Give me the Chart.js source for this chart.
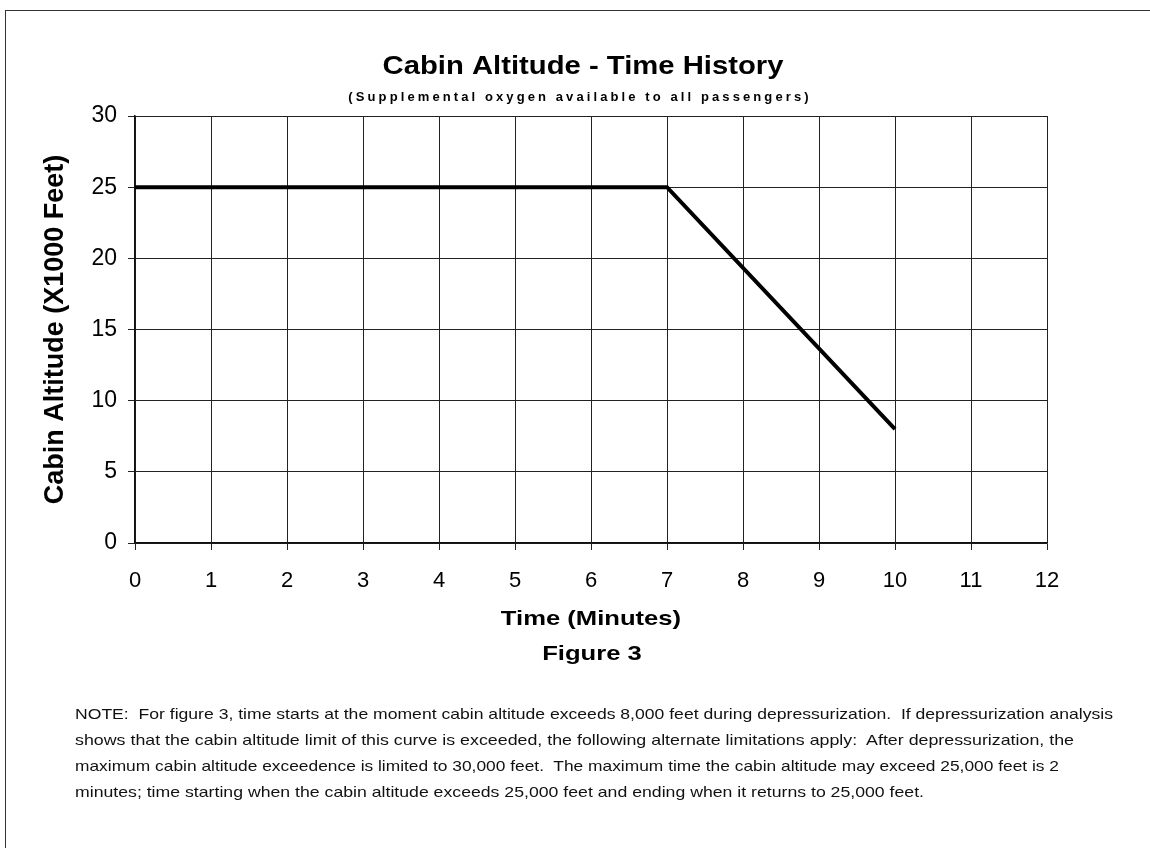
<!DOCTYPE html>
<html>
<head>
<meta charset="utf-8">
<script src="https://cdn.jsdelivr.net/npm/chart.js@4/dist/chart.umd.min.js"></script>
<style>
  html, body { margin: 0; padding: 0; background: #fff; }
  #wrap { position: relative; width: 1150px; height: 848px; overflow: hidden; }
  #frame { position: absolute; left: 5px; top: 10px; width: 1200px; height: 900px; border: 1px solid #333; box-sizing: border-box; }
  canvas { position: absolute; left: 0; top: 0; }
  .note { position: absolute; left: 75px; font-family: "Liberation Sans", Arial, sans-serif; font-size: 14.4px; color: #111; white-space: nowrap; line-height: 26px; transform-origin: 0 50%; }
</style>
</head>
<body>
<div id="wrap">
  <div id="frame"></div>
  <canvas id="c" width="1150" height="848"></canvas>
  <div class="note" data-w="1038" style="top:701px">NOTE:&nbsp; For figure 3, time starts at the moment cabin altitude exceeds 8,000 feet during depressurization.&nbsp; If depressurization analysis</div>
  <div class="note" data-w="999" style="top:727px">shows that the cabin altitude limit of this curve is exceeded, the following alternate limitations apply:&nbsp; After depressurization, the</div>
  <div class="note" data-w="984" style="top:753px">maximum cabin altitude exceedence is limited to 30,000 feet.&nbsp; The maximum time the cabin altitude may exceed 25,000 feet is 2</div>
  <div class="note" data-w="849" style="top:779px">minutes; time starting when the cabin altitude exceeds 25,000 feet and ending when it returns to 25,000 feet.</div>
</div>
<script>
// ---- data ----
const timeMinutes = [0, 7, 10];
const cabinAltitudeK = [25, 25, 8];
const xTicks = [0, 1, 2, 3, 4, 5, 6, 7, 8, 9, 10, 11, 12];
const yTicks = [0, 5, 10, 15, 20, 25, 30];
const chartTitle = 'Cabin Altitude - Time History';
const chartSubtitle = '(Supplemental oxygen available to all passengers)';
const xTitle = 'Time (Minutes)';
const figureLabel = 'Figure 3';
const yTitle = 'Cabin Altitude (X1000 Feet)';

const FONT = '"Liberation Sans", Arial, sans-serif';
const STRETCH = 1.22;

// stretch note lines to the reference widths
document.querySelectorAll('.note').forEach(el => {
  const w = el.getBoundingClientRect().width;
  el.style.transform = 'scaleX(' + (parseFloat(el.dataset.w) / w) + ')';
});

// horizontally stretched x-axis title (scanned look)
const stretchedTitles = {
  id: 'stretchedTitles',
  afterLayout(chart) {
    const s = chart.scales.x;
    if (s && !s._stretched) {
      const orig = s.drawTitle;
      s.drawTitle = function () {
        const ctx = this.ctx;
        ctx.save();
        const cx = (this.left + this.right) / 2;
        ctx.translate(cx, 0); ctx.scale(STRETCH, 1); ctx.translate(-cx, 0);
        orig.apply(this, arguments);
        ctx.restore();
      };
      s._stretched = true;
    }
  }
};

function stretchedText(ctx, text, cx, y, sx) {
  ctx.save();
  ctx.translate(cx, y);
  ctx.scale(sx, 1);
  ctx.fillText(text, 0, 0);
  ctx.restore();
}

const headerPlugin = {
  id: 'header',
  afterDraw(chart) {
    const ctx = chart.ctx;
    ctx.save();
    ctx.fillStyle = '#000';
    ctx.textAlign = 'center';
    ctx.textBaseline = 'alphabetic';
    ctx.font = 'bold 25px ' + FONT;
    stretchedText(ctx, chartTitle, 583, 74, 1.17);
    ctx.font = 'bold 13px ' + FONT;
    ctx.letterSpacing = '3.1px';
    ctx.fillText(chartSubtitle, 580, 101);
    ctx.letterSpacing = '0px';
    ctx.font = 'bold 21px ' + FONT;
    stretchedText(ctx, figureLabel, 592, 660, STRETCH);
    ctx.restore();
  }
};

const data = {
  datasets: [{
    label: 'Cabin Altitude',
    data: timeMinutes.map((t, i) => ({ x: t, y: cabinAltitudeK[i] })),
    borderColor: '#000',
    borderWidth: 4,
    pointRadius: 0,
    tension: 0,
    fill: false
  }]
};

new Chart(document.getElementById('c'), {
  type: 'line',
  data,
  plugins: [stretchedTitles, headerPlugin],
  options: {
    responsive: false,
    animation: false,
    devicePixelRatio: 1,
    layout: { padding: { top: 116, left: 0, right: 103, bottom: 175 } },
    plugins: { legend: { display: false }, title: { display: false }, tooltip: { enabled: false } },
    scales: {
      x: {
        type: 'linear', min: 0, max: 12,
        afterBuildTicks: s => { s.ticks = xTicks.map(v => ({ value: v })); },
        afterFit: s => { s.height = 130; },
        grid: { color: '#222', lineWidth: 1, tickLength: 7, tickColor: '#222' },
        border: { color: '#111', width: 1.5 },
        ticks: { color: '#000', font: { family: FONT, size: 22 }, padding: 18, maxRotation: 0 },
        title: { display: true, text: xTitle, color: '#000', font: { family: FONT, size: 21, weight: 'bold' }, padding: { top: 0, bottom: 41 } }
      },
      y: {
        min: 0, max: 30,
        afterBuildTicks: s => { s.ticks = yTicks.map(v => ({ value: v })); },
        afterFit: s => { s.width = 135; },
        grid: { color: '#222', lineWidth: 1, tickLength: 7, tickColor: '#222' },
        border: { color: '#111', width: 1.5 },
        ticks: { color: '#000', font: { family: FONT, size: 23 }, padding: 11 },
        title: { display: true, text: yTitle, color: '#000', font: { family: FONT, size: 27, weight: 'bold' }, padding: { top: 39, bottom: 0 } }
      }
    }
  }
});
</script>
</body>
</html>
